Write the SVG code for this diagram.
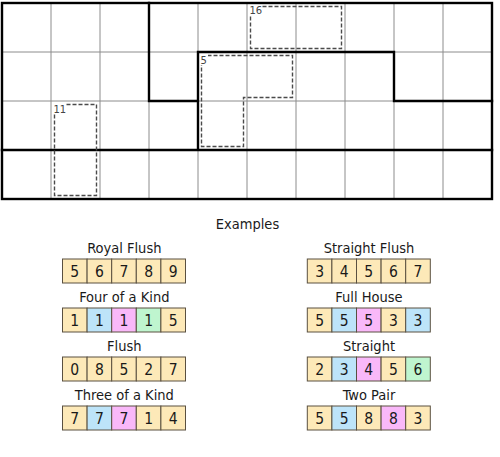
<svg xmlns="http://www.w3.org/2000/svg" width="500" height="457" viewBox="0 0 500 457">
<style>
.thin{stroke:#8c8c8c;stroke-width:1;fill:none}
.thick{stroke:#000;stroke-width:2.4;fill:none;stroke-linecap:square}
.cage{stroke:#4a4a4a;stroke-width:1.4;fill:none;stroke-dasharray:4 2}
.clab{font-family:"DejaVu Sans",sans-serif;font-size:10px;fill:#444}
.lbl{font-family:"DejaVu Sans Condensed","DejaVu Sans",sans-serif;font-size:14.5px;fill:#1a1a1a;text-anchor:middle}
.num{font-family:"DejaVu Sans Condensed","DejaVu Sans",sans-serif;font-size:15.5px;fill:#1a1a1a;text-anchor:middle}
.c{stroke:#5a5040;stroke-width:1}
.Y{fill:#fde9b8}.B{fill:#bde4f9}.P{fill:#f9b8f9}.G{fill:#bff5cf}
</style>
<rect width="500" height="457" fill="#fff"/>
<g id="grid">
<path class="thin" d="M51 3V199M100 3V199M149 3V199M198 3V199M247 3V199M296 3V199M345 3V199M394 3V199M443 3V199M2 52H492M2 101H492M2 150H492"/>
</g>
<g id="regions">
<rect class="thick" x="2" y="3" width="490" height="196"/>
<path class="thick" d="M149 3V101H198M198 150V52H394V101H492M2 150H492"/>
</g>
<g id="cage16">
<rect class="cage" x="250.5" y="6.5" width="91" height="42"/>
<rect x="249" y="5" width="13" height="11" fill="#fff"/>
<text class="clab" x="249.5" y="14">16</text>
</g>
<g id="cage5">
<path class="cage" d="M201.5 55.5H292.5V97.5H243.5V146.5H201.5Z"/>
<rect x="200" y="54" width="8" height="11" fill="#fff"/>
<text class="clab" x="200.5" y="63.5">5</text>
</g>
<g id="cage11">
<rect class="cage" x="54.5" y="104.5" width="42" height="91"/>
<rect x="53" y="103" width="13" height="11" fill="#fff"/>
<text class="clab" x="53.5" y="112.5">11</text>
</g>
<text class="lbl" x="247.5" y="229">Examples</text>
<g id="royal">
<text class="lbl" x="124.3" y="253">Royal Flush</text>
<g transform="translate(62.5,259)">
<rect class="c Y" x="0" y="0" width="24.6" height="24"/><rect class="c Y" x="24.6" y="0" width="24.6" height="24"/><rect class="c Y" x="49.2" y="0" width="24.6" height="24"/><rect class="c Y" x="73.8" y="0" width="24.6" height="24"/><rect class="c Y" x="98.4" y="0" width="24.6" height="24"/>
<text class="num" x="12.3" y="17.5">5</text><text class="num" x="36.9" y="17.5">6</text><text class="num" x="61.5" y="17.5">7</text><text class="num" x="86.1" y="17.5">8</text><text class="num" x="110.7" y="17.5">9</text>
</g>
</g>
<g id="four">
<text class="lbl" x="124.3" y="302">Four of a Kind</text>
<g transform="translate(62.5,308)">
<rect class="c Y" x="0" y="0" width="24.6" height="24"/><rect class="c B" x="24.6" y="0" width="24.6" height="24"/><rect class="c P" x="49.2" y="0" width="24.6" height="24"/><rect class="c G" x="73.8" y="0" width="24.6" height="24"/><rect class="c Y" x="98.4" y="0" width="24.6" height="24"/>
<text class="num" x="12.3" y="17.5">1</text><text class="num" x="36.9" y="17.5">1</text><text class="num" x="61.5" y="17.5">1</text><text class="num" x="86.1" y="17.5">1</text><text class="num" x="110.7" y="17.5">5</text>
</g>
</g>
<g id="flush">
<text class="lbl" x="124.3" y="351">Flush</text>
<g transform="translate(62.5,357)">
<rect class="c Y" x="0" y="0" width="24.6" height="24"/><rect class="c Y" x="24.6" y="0" width="24.6" height="24"/><rect class="c Y" x="49.2" y="0" width="24.6" height="24"/><rect class="c Y" x="73.8" y="0" width="24.6" height="24"/><rect class="c Y" x="98.4" y="0" width="24.6" height="24"/>
<text class="num" x="12.3" y="17.5">0</text><text class="num" x="36.9" y="17.5">8</text><text class="num" x="61.5" y="17.5">5</text><text class="num" x="86.1" y="17.5">2</text><text class="num" x="110.7" y="17.5">7</text>
</g>
</g>
<g id="three">
<text class="lbl" x="124.3" y="400">Three of a Kind</text>
<g transform="translate(62.5,406)">
<rect class="c Y" x="0" y="0" width="24.6" height="24"/><rect class="c B" x="24.6" y="0" width="24.6" height="24"/><rect class="c P" x="49.2" y="0" width="24.6" height="24"/><rect class="c Y" x="73.8" y="0" width="24.6" height="24"/><rect class="c Y" x="98.4" y="0" width="24.6" height="24"/>
<text class="num" x="12.3" y="17.5">7</text><text class="num" x="36.9" y="17.5">7</text><text class="num" x="61.5" y="17.5">7</text><text class="num" x="86.1" y="17.5">1</text><text class="num" x="110.7" y="17.5">4</text>
</g>
</g>
<g id="sflush">
<text class="lbl" x="369" y="253">Straight Flush</text>
<g transform="translate(307.3,259)">
<rect class="c Y" x="0" y="0" width="24.6" height="24"/><rect class="c Y" x="24.6" y="0" width="24.6" height="24"/><rect class="c Y" x="49.2" y="0" width="24.6" height="24"/><rect class="c Y" x="73.8" y="0" width="24.6" height="24"/><rect class="c Y" x="98.4" y="0" width="24.6" height="24"/>
<text class="num" x="12.3" y="17.5">3</text><text class="num" x="36.9" y="17.5">4</text><text class="num" x="61.5" y="17.5">5</text><text class="num" x="86.1" y="17.5">6</text><text class="num" x="110.7" y="17.5">7</text>
</g>
</g>
<g id="fullhouse">
<text class="lbl" x="369" y="302">Full House</text>
<g transform="translate(307.3,308)">
<rect class="c Y" x="0" y="0" width="24.6" height="24"/><rect class="c B" x="24.6" y="0" width="24.6" height="24"/><rect class="c P" x="49.2" y="0" width="24.6" height="24"/><rect class="c Y" x="73.8" y="0" width="24.6" height="24"/><rect class="c B" x="98.4" y="0" width="24.6" height="24"/>
<text class="num" x="12.3" y="17.5">5</text><text class="num" x="36.9" y="17.5">5</text><text class="num" x="61.5" y="17.5">5</text><text class="num" x="86.1" y="17.5">3</text><text class="num" x="110.7" y="17.5">3</text>
</g>
</g>
<g id="straight">
<text class="lbl" x="369" y="351">Straight</text>
<g transform="translate(307.3,357)">
<rect class="c Y" x="0" y="0" width="24.6" height="24"/><rect class="c B" x="24.6" y="0" width="24.6" height="24"/><rect class="c P" x="49.2" y="0" width="24.6" height="24"/><rect class="c Y" x="73.8" y="0" width="24.6" height="24"/><rect class="c G" x="98.4" y="0" width="24.6" height="24"/>
<text class="num" x="12.3" y="17.5">2</text><text class="num" x="36.9" y="17.5">3</text><text class="num" x="61.5" y="17.5">4</text><text class="num" x="86.1" y="17.5">5</text><text class="num" x="110.7" y="17.5">6</text>
</g>
</g>
<g id="twopair">
<text class="lbl" x="369" y="400">Two Pair</text>
<g transform="translate(307.3,406)">
<rect class="c Y" x="0" y="0" width="24.6" height="24"/><rect class="c B" x="24.6" y="0" width="24.6" height="24"/><rect class="c Y" x="49.2" y="0" width="24.6" height="24"/><rect class="c P" x="73.8" y="0" width="24.6" height="24"/><rect class="c Y" x="98.4" y="0" width="24.6" height="24"/>
<text class="num" x="12.3" y="17.5">5</text><text class="num" x="36.9" y="17.5">5</text><text class="num" x="61.5" y="17.5">8</text><text class="num" x="86.1" y="17.5">8</text><text class="num" x="110.7" y="17.5">3</text>
</g>
</g>
</svg>
